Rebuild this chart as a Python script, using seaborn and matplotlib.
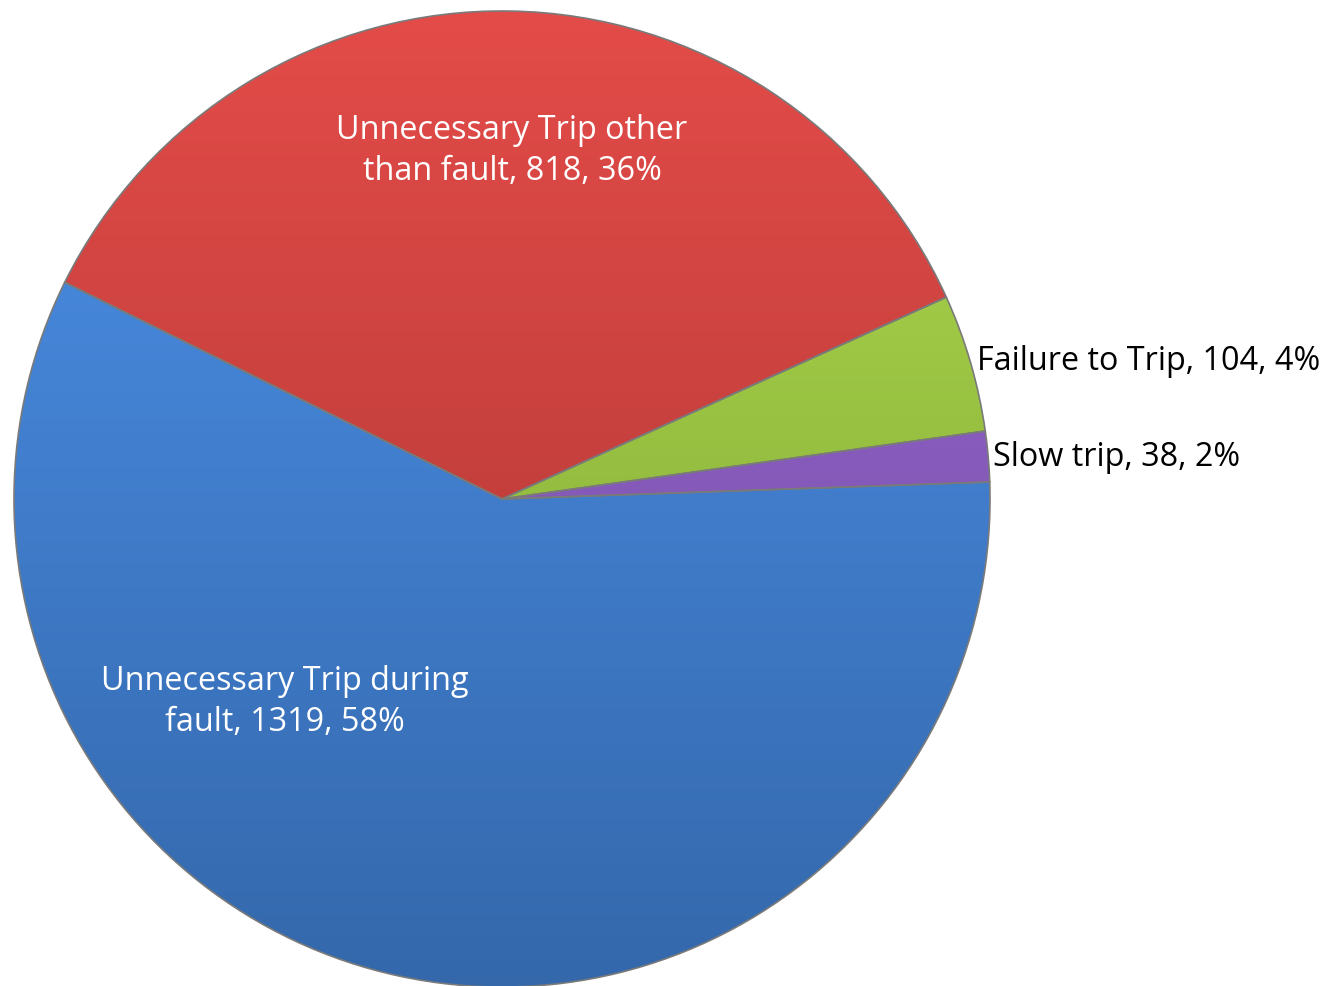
import numpy as np
import seaborn as sns
import matplotlib.pyplot as plt
import matplotlib.colors as mcolors

# Data
categories = ["Unnecessary Trip during fault", "Unnecessary Trip other than fault",
              "Failure to Trip", "Slow trip"]
counts = [1319, 818, 104, 38]
percents = ["58%", "36%", "4%", "2%"]
colors = ["#4182D6", "#CF403D", "#9CC741", "#8A5CC2"]

sns.set_theme(style="white")
plt.rcParams['font.family'] = ['Open Sans', 'DejaVu Sans']

W, H = 1327, 986
fig = plt.figure(figsize=(W / 100, H / 100), dpi=100)
ax = fig.add_axes([0, 0, 1, 1])

cx, cy, r = 502, H - 499, 488
wedges, _ = ax.pie(counts, colors=colors, startangle=2, counterclock=False,
                   center=(cx, cy), radius=r,
                   wedgeprops=dict(edgecolor="#7a7a7a", linewidth=1.2))
ax.set_xlim(0, W)
ax.set_ylim(0, H)
ax.set_aspect('equal')
ax.axis('off')

# soft vertical shading on each slice (lighter at top, darker at bottom)
grad = np.linspace(0, 1, 256).reshape(-1, 1)
for w, c in zip(wedges, colors):
    base = np.array(mcolors.to_rgb(c))
    light = np.clip(base * 1.06 + 0.03, 0, 1)
    dark = base * 0.80
    img = light[None, None, :] * (1 - grad[..., None]) + dark[None, None, :] * grad[..., None]
    im = ax.imshow(img, extent=(cx - r, cx + r, cy - r, cy + r), origin='upper',
                   aspect='auto', zorder=1.5)
    im.set_clip_path(w)
    w.set_zorder(2)
    w.set_facecolor('none')

# labels
labels = [f"{cat}, {n}, {p}" for cat, n, p in zip(categories, counts, percents)]
fs = 23.3
ax.text(285, H - 702, "Unnecessary Trip during\nfault, 1319, 58%", color="white",
        fontsize=fs, ha="center", va="center", linespacing=1.3, zorder=3)
ax.text(512, H - 151, "Unnecessary Trip other\nthan fault, 818, 36%", color="white",
        fontsize=fs, ha="center", va="center", linespacing=1.3, zorder=3)
ax.text(977, H - 362, labels[2], color="black", fontsize=fs, ha="left", va="center", zorder=3)
ax.text(993, H - 458, labels[3], color="black", fontsize=fs, ha="left", va="center", zorder=3)

fig.savefig("out.png", dpi=100)
